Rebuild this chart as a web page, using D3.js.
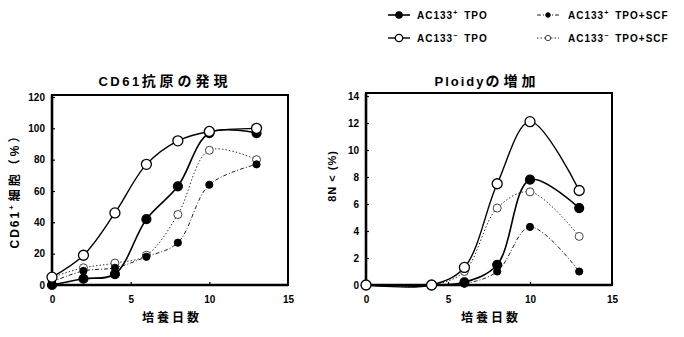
<!DOCTYPE html>
<html><head><meta charset="utf-8">
<script src="https://cdn.jsdelivr.net/npm/d3@7"></script>
<style>
body{margin:0;background:#fff;}
svg{display:block;font-family:"Liberation Sans",Arial,"Noto Sans CJK JP",sans-serif;font-weight:bold;}
</style></head><body>
<svg id="chart" width="684" height="337"></svg>
<script>
// ---- CD61 antigen expression (% CD61+ cells) by culture day ----
const daysCD61 = [0, 2, 4, 6, 8, 10, 13];
const cd61PosTPO    = [0, 4, 7, 42, 63, 97, 97];
const cd61NegTPO    = [5, 19, 46, 77, 92, 98, 100];
const cd61PosTPOSCF = [2, 9, 11, 18, 27, 64, 77];
const cd61NegTPOSCF = [5, 11, 14, 19, 45, 86, 80];

// ---- Ploidy increase (% cells >= 8N) by culture day ----
const daysPloidy = [0, 4, 6, 8, 10, 13];
const ploidyPosTPO    = [0, 0, 0.2, 1.5, 7.8, 5.7];
const ploidyNegTPO    = [0, 0, 1.3, 7.5, 12.1, 7.0];
const ploidyPosTPOSCF = [0, 0, 0.1, 1.0, 4.3, 1.0];
const ploidyNegTPOSCF = [0, 0, 1.0, 5.7, 6.9, 3.6];

// ---- axis ticks and labels ----
const xTicks = [0, 5, 10, 15];
const cd61Ticks = [0, 20, 40, 60, 80, 100, 120];
const ploidyTicks = [0, 2, 4, 6, 8, 10, 12, 14];
const xAxisTitle = "培養日数";

// series: marker / label parts (cell type, sign, medium)
const seriesKeys = ["posTPO", "negTPO", "posTPOSCF", "negTPOSCF"];
const seriesSign = ["+", "−", "+", "−"];
const seriesMedium = ["TPO", "TPO", "TPO+SCF", "TPO+SCF"];

const styles = {
  posTPO:    {dash: null,    width: 1.6, color: "#000", fill: "#000", r: 4.5, mstroke: 1.2, mcolor: "#000"},
  negTPO:    {dash: null,    width: 1.4, color: "#000", fill: "#fff", r: 5,   mstroke: 1.3, mcolor: "#000"},
  posTPOSCF: {dash: "4,2,1,2", width: 1.0, color: "#222", fill: "#000", r: 3.6, mstroke: 1,   mcolor: "#000"},
  negTPOSCF: {dash: "1.5,2", width: 1.0, color: "#333", fill: "#fff", r: 4,   mstroke: 1,   mcolor: "#444"}
};

const svg = d3.select("#chart");

function panel(o) {
  const x = d3.scaleLinear().domain([0, 15]).range([o.x0, o.x1]);
  const y = d3.scaleLinear().domain([0, o.ymax]).range([o.y0, o.yTop]);
  const g = svg.append("g");

  // frame
  g.append("rect").attr("x", o.x0).attr("y", o.boxTop)
    .attr("width", o.x1 - o.x0).attr("height", o.y0 - o.boxTop)
    .attr("fill", "none").attr("stroke", "#000").attr("stroke-width", 2);
  g.append("line").attr("x1", o.x0).attr("x2", o.x0).attr("y1", o.boxTop).attr("y2", o.y0 + 1)
    .attr("stroke", "#000").attr("stroke-width", 2.6);
  g.append("line").attr("x1", o.x0 - 1).attr("x2", o.x1).attr("y1", o.y0).attr("y2", o.y0)
    .attr("stroke", "#000").attr("stroke-width", 2.6);

  // axes (ticks point inward)
  const ax = g.append("g").attr("transform", `translate(0,${o.y0})`)
    .call(d3.axisBottom(x).tickValues(xTicks).tickSize(-3).tickPadding(11));
  const ay = g.append("g").attr("transform", `translate(${o.x0},0)`)
    .call(d3.axisLeft(y).tickValues(o.yTicks).tickSize(-3).tickPadding(7));
  [ax, ay].forEach(a => {
    a.select(".domain").remove();
    a.selectAll("line").attr("stroke", "#000").attr("stroke-width", 1.2);
    a.selectAll("text").attr("font-size", 10).attr("font-weight", "bold")
      .attr("font-family", "Liberation Sans, Arial, sans-serif").attr("fill", "#000");
  });

  // lines, dashed series beneath solid ones
  const order = ["negTPOSCF", "posTPOSCF", "posTPO", "negTPO"];
  const line = d3.line().x(d => x(d[0])).y(d => y(Math.max(0, d[1])))
    .curve(d3.curveCatmullRom.alpha(0.5));
  order.forEach(k => {
    const s = styles[k];
    const pts = o.days.map((d, i) => [d, o.series[k][i]]);
    g.append("path").attr("d", line(pts)).attr("fill", "none")
      .attr("stroke", s.color).attr("stroke-width", s.width)
      .attr("stroke-dasharray", s.dash);
  });
  order.forEach(k => {
    const s = styles[k];
    g.selectAll(null).data(o.days.map((d, i) => [d, o.series[k][i]])).enter()
      .append("circle").attr("cx", d => x(d[0])).attr("cy", d => y(d[1]))
      .attr("r", s.r).attr("fill", s.fill).attr("stroke", s.mcolor)
      .attr("stroke-width", s.mstroke);
  });

  // title
  const t = g.append("text").attr("x", o.titleX).attr("y", 86)
    .attr("text-anchor", "middle").attr("font-weight", "bold");
  o.title.forEach(p => t.append("tspan").attr("letter-spacing", p.ls)
    .attr("font-size", p.fs).text(p.t));

  // x axis title
  g.append("text").attr("x", (o.x0 + o.x1) / 2 + 2).attr("y", 322)
    .attr("text-anchor", "middle").attr("font-size", 12).attr("letter-spacing", 3)
    .attr("font-family", "Noto Sans CJK JP, sans-serif").attr("font-weight", "bold")
    .text(xAxisTitle);

  // y axis title
  const yl = g.append("text")
    .attr("transform", `translate(${o.yLabelX},${o.yLabelY}) rotate(-90)`)
    .attr("text-anchor", "middle").attr("font-size", o.yLabelSize).attr("font-weight", "bold");
  o.yLabel.forEach(p => {
    const ts = yl.append("tspan").attr("letter-spacing", p.ls).text(p.t);
    if (p.sup) ts.attr("font-size", 8).attr("dy", -5);
    if (p.after) ts.attr("dy", 5);
  });
}

panel({
  x0: 52, x1: 288, y0: 285, yTop: 97, boxTop: 95, ymax: 120,
  yTicks: cd61Ticks, days: daysCD61,
  series: {posTPO: cd61PosTPO, negTPO: cd61NegTPO, posTPOSCF: cd61PosTPOSCF, negTPOSCF: cd61NegTPOSCF},
  titleX: 165,
  title: [{t: "CD61", ls: 2.5, fs: 13}, {t: "抗原の発現", ls: 4, fs: 14}],
  yLabelX: 19, yLabelY: 188, yLabelSize: 12,
  yLabel: [{t: "CD61", ls: 2}, {t: "+", ls: 4, sup: true}, {t: "細胞（%）", ls: 3, after: true}]
});

panel({
  x0: 366, x1: 612, y0: 285, yTop: 96, boxTop: 93, ymax: 14,
  yTicks: ploidyTicks, days: daysPloidy,
  series: {posTPO: ploidyPosTPO, negTPO: ploidyNegTPO, posTPOSCF: ploidyPosTPOSCF, negTPOSCF: ploidyNegTPOSCF},
  titleX: 487,
  title: [{t: "Ploidy", ls: 2, fs: 13}, {t: "の増加", ls: 4, fs: 14}],
  yLabelX: 336, yLabelY: 176, yLabelSize: 11,
  yLabel: [{t: "8N < (%)", ls: 1}]
});

// legend
const legendPos = [
  {sx: 388, tx: 417, y: 15},
  {sx: 388, tx: 417, y: 38},
  {sx: 537, tx: 568, y: 15},
  {sx: 537, tx: 568, y: 38}
];
seriesKeys.forEach((k, i) => {
  const s = styles[k], p = legendPos[i];
  const lg = svg.append("g");
  lg.append("line").attr("x1", p.sx).attr("x2", p.sx + 22).attr("y1", p.y).attr("y2", p.y)
    .attr("stroke", s.color).attr("stroke-width", s.width).attr("stroke-dasharray", s.dash);
  lg.append("circle").attr("cx", p.sx + 11).attr("cy", p.y).attr("r", s.r - 1.3)
    .attr("fill", s.fill).attr("stroke", s.mcolor).attr("stroke-width", s.mstroke);
  const t = lg.append("text").attr("x", p.tx).attr("y", p.y + 4)
    .attr("font-size", 10).attr("letter-spacing", 1).attr("font-weight", "bold");
  t.append("tspan").text("AC133");
  t.append("tspan").attr("font-size", 7).attr("dy", -4).text(seriesSign[i]);
  t.append("tspan").attr("dy", 4).attr("dx", 6).text(seriesMedium[i]);
});
</script>
</body></html>
